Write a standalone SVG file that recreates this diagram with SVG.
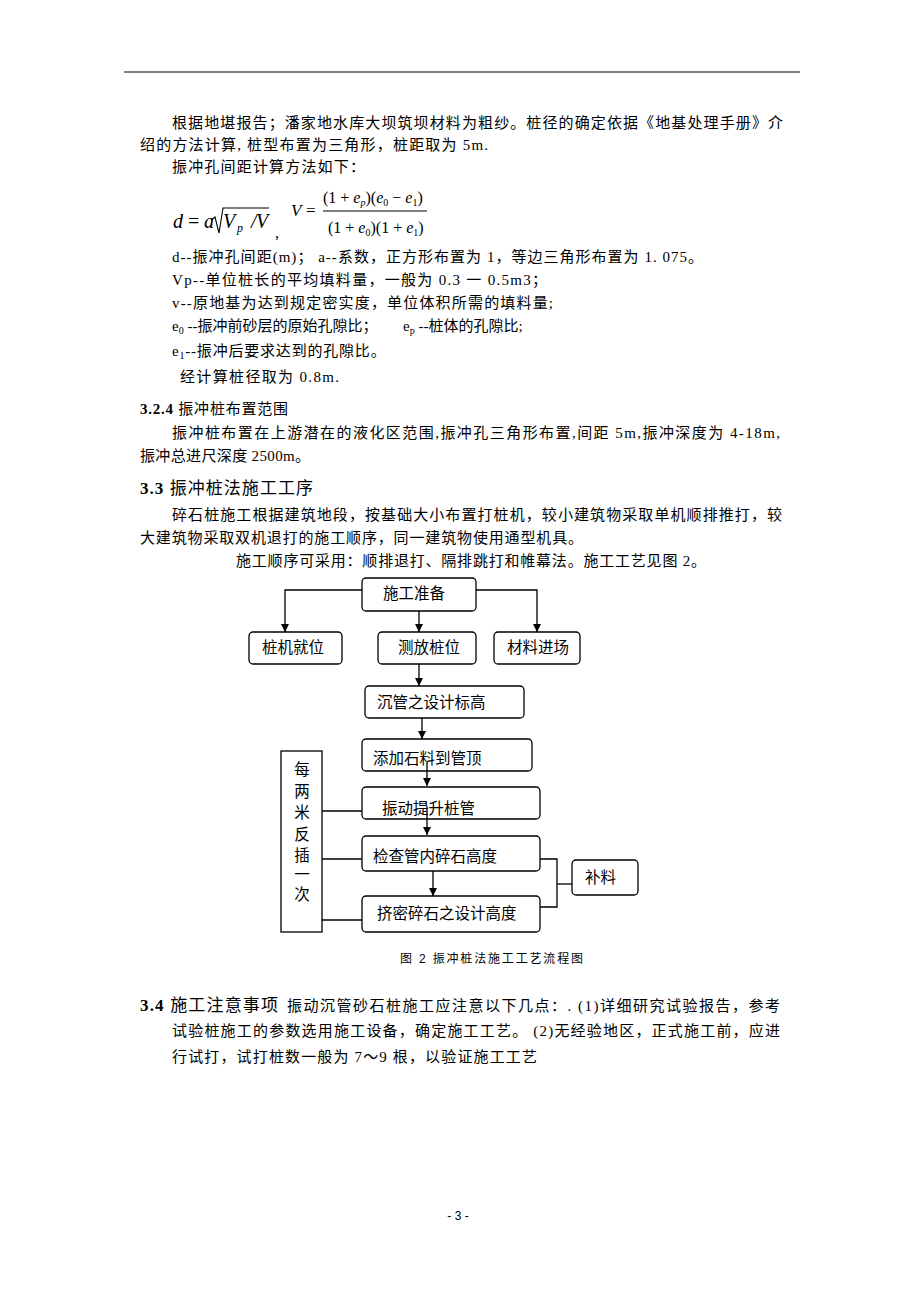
<svg xmlns="http://www.w3.org/2000/svg" width="920" height="1300" viewBox="0 0 920 1300">
<style>
.t{font-family:"Liberation Serif","Noto Sans CJK SC",serif;font-size:15px;fill:#000}
.h{font-family:"Liberation Serif","Noto Sans CJK SC",serif;font-size:17px;fill:#000}
.b{font-weight:bold}
.m{font-family:"Liberation Serif",serif;fill:#000}
.i{font-style:italic}
.n{font-family:"Liberation Sans","Noto Sans CJK SC",sans-serif;font-size:15.5px;fill:#000}
.box{fill:#fff;stroke:#000;stroke-width:1.3}
.ln{fill:none;stroke:#000;stroke-width:1.3}
.cap{font-family:"Liberation Sans","Noto Sans CJK SC",sans-serif;font-size:12px;fill:#000}
</style>
<defs>
<marker id="ah" viewBox="0 0 10 10" refX="10" refY="5" markerWidth="8" markerHeight="8" markerUnits="userSpaceOnUse" orient="auto">
<path d="M0,0 L10,5 L0,10 z" fill="#000"/>
</marker>
</defs>
<rect width="920" height="1300" fill="#fff"/>
<line x1="124" y1="72" x2="800" y2="72" stroke="#000" stroke-width="1"/>

<g id="body">
<text class="t" x="172" y="128" textLength="611" lengthAdjust="spacing">根据地堪报告；潘家地水库大坝筑坝材料为粗纱。桩径的确定依据《地基处理手册》介</text>
<text class="t" x="140" y="150" textLength="348" lengthAdjust="spacing">绍的方法计算, 桩型布置为三角形，桩距取为 5m.</text>
<text class="t" x="172" y="172" textLength="193" lengthAdjust="spacing">振冲孔间距计算方法如下：</text>

<!-- formula -->
<text class="m i" x="173" y="228" font-size="20">d</text>
<text class="m" x="188" y="228" font-size="20">=</text>
<text class="m i" x="204" y="228" font-size="20">a</text>
<path d="M211,220 L215,217 L219,233 L223,208 L269,208" fill="none" stroke="#000" stroke-width="1.1"/>
<text class="m i" x="223" y="228" font-size="20">V</text>
<text class="m i" x="237" y="232" font-size="12">p</text>
<text class="m i" x="251" y="228" font-size="20">/</text>
<text class="m i" x="256" y="228" font-size="20">V</text>
<text class="m" x="275" y="238" font-size="16">,</text>
<text class="m i" x="291" y="216" font-size="17">V</text>
<text class="m" x="306" y="216" font-size="17">=</text>
<text class="m" x="323" y="203" font-size="16">(1 + <tspan class="i">e</tspan><tspan class="i" font-size="10" dy="3">p</tspan><tspan dy="-3">)(</tspan><tspan class="i">e</tspan><tspan font-size="10" dy="3">0</tspan><tspan dy="-3"> − </tspan><tspan class="i">e</tspan><tspan font-size="10" dy="3">1</tspan><tspan dy="-3">)</tspan></text>
<line x1="323" y1="211" x2="427" y2="211" stroke="#000" stroke-width="1"/>
<text class="m" x="328" y="233" font-size="16">(1 + <tspan class="i">e</tspan><tspan font-size="10" dy="3">0</tspan><tspan dy="-3">)(1 + </tspan><tspan class="i">e</tspan><tspan font-size="10" dy="3">1</tspan><tspan dy="-3">)</tspan></text>

<text class="t" x="172" y="262" textLength="531" lengthAdjust="spacing">d--振冲孔间距(m)；   a--系数，正方形布置为 1，等边三角形布置为 1. 075。</text>
<text class="t" x="172" y="285" textLength="375" lengthAdjust="spacing">Vp--单位桩长的平均填料量，一般为 0.3 一 0.5m3；</text>
<text class="t" x="172" y="308" textLength="381" lengthAdjust="spacing">v--原地基为达到规定密实度，单位体积所需的填料量;</text>
<text class="t" x="172" y="331">e<tspan font-size="10" dy="3">0</tspan><tspan dy="-3"> --振冲前砂层的原始孔隙比；</tspan><tspan x="403">e</tspan><tspan font-size="10" dy="3">p</tspan><tspan dy="-3"> --桩体的孔隙比;</tspan></text>
<text class="t" x="172" y="356" letter-spacing="0.8">e<tspan font-size="10" dy="3">1</tspan><tspan dy="-3">--振冲后要求达到的孔隙比。</tspan></text>
<text class="t" x="180" y="382" textLength="159" lengthAdjust="spacing">经计算桩径取为  0.8m.</text>
<text class="t" x="140" y="414" textLength="148" lengthAdjust="spacing"><tspan class="b">3.2.4</tspan> 振冲桩布置范围</text>
<text class="t" x="172" y="438" textLength="608" lengthAdjust="spacing">振冲桩布置在上游潜在的液化区范围,振冲孔三角形布置,间距 5m,振冲深度为 4-18m,</text>
<text class="t" x="140" y="461" textLength="170" lengthAdjust="spacing">振冲总进尺深度 2500m。</text>
<text class="h" x="140" y="494" textLength="173" lengthAdjust="spacing"><tspan class="b">3.3</tspan> 振冲桩法施工工序</text>
<text class="t" x="172" y="520" textLength="610" lengthAdjust="spacing">碎石桩施工根据建筑地段，按基础大小布置打桩机，较小建筑物采取单机顺排推打，较</text>
<text class="t" x="140" y="543" textLength="443" lengthAdjust="spacing">大建筑物采取双机退打的施工顺序，同一建筑物使用通型机具。</text>
<text class="t" x="236" y="566" font-size="14" textLength="470" lengthAdjust="spacing">施工顺序可采用：顺排退打、隔排跳打和帷幕法。施工工艺见图 2。</text>
</g>

<g id="connectors">
<polyline class="ln" points="362,590 285,590 285,632" marker-end="url(#ah)"/>
<line class="ln" x1="419" y1="611" x2="419" y2="632" marker-end="url(#ah)"/>
<polyline class="ln" points="476,590 537,590 537,632" marker-end="url(#ah)"/>
<line class="ln" x1="419" y1="664" x2="419" y2="686" marker-end="url(#ah)"/>
<line class="ln" x1="422" y1="718" x2="422" y2="739" marker-end="url(#ah)"/>
<line class="ln" x1="322" y1="811" x2="362" y2="811"/>
<line class="ln" x1="322" y1="859" x2="362" y2="859"/>
<line class="ln" x1="322" y1="920" x2="362" y2="920"/>
<polyline class="ln" points="540,859 557,859 557,907 540,907"/>
<line class="ln" x1="557" y1="884" x2="572" y2="884"/>
</g>

<g id="n1"><rect class="box" x="362" y="578" width="114" height="33" rx="4"/><text class="n" x="383" y="599" font-size="16">施工准备</text></g>
<g id="n2"><rect class="box" x="249" y="632" width="93" height="32" rx="4"/><text class="n" x="262" y="653">桩机就位</text></g>
<g id="n3"><rect class="box" x="378" y="632" width="98" height="32" rx="4"/><text class="n" x="398" y="653">测放桩位</text></g>
<g id="n4"><rect class="box" x="494" y="632" width="86" height="32" rx="4"/><text class="n" x="507" y="653">材料进场</text></g>
<g id="n5"><rect class="box" x="365" y="686" width="159" height="32" rx="4"/><text class="n" x="377" y="708" font-size="16">沉管之设计标高</text></g>
<g id="n6"><rect class="box" x="362" y="739" width="170" height="32" rx="4"/><text class="n" x="373" y="764" font-size="16">添加石料到管顶</text></g>
<g id="n7"><rect class="box" x="362" y="787" width="178" height="32" rx="4"/><text class="n" x="382" y="814" font-size="16">振动提升桩管</text></g>
<g id="n8"><rect class="box" x="362" y="836" width="178" height="35" rx="4"/><text class="n" x="373" y="862" font-size="16">检查管内碎石高度</text></g>
<g id="n9"><rect class="box" x="362" y="896" width="178" height="36" rx="4"/><text class="n" x="377" y="919" font-size="16">挤密碎石之设计高度</text></g>
<g id="n10"><rect class="box" x="572" y="860" width="66" height="35" rx="4"/><text class="n" x="585" y="883" font-size="16">补料</text></g>
<g id="n11"><rect class="box" x="281" y="751" width="41" height="181"/>
<text class="n" text-anchor="middle" font-size="16"><tspan x="302" y="775">每</tspan><tspan x="302" y="797">两</tspan><tspan x="302" y="818">米</tspan><tspan x="302" y="840">反</tspan><tspan x="302" y="861">插</tspan><tspan x="302" y="880">一</tspan><tspan x="302" y="900">次</tspan></text></g>

<g id="connectors-over">
<line class="ln" x1="427" y1="762" x2="427" y2="786" marker-end="url(#ah)"/>
<line class="ln" x1="427" y1="806" x2="427" y2="835" marker-end="url(#ah)"/>
<line class="ln" x1="433" y1="871" x2="433" y2="896" marker-end="url(#ah)"/>
</g>

<text class="cap" x="400" y="963" font-size="13" textLength="183" lengthAdjust="spacing">图 2  振冲桩法施工工艺流程图</text>

<g id="sec34">
<text class="h" x="140" y="1011" textLength="138" lengthAdjust="spacing"><tspan class="b">3.4</tspan> 施工注意事项</text>
<text class="t" x="287" y="1011" textLength="493" lengthAdjust="spacing">振动沉管砂石桩施工应注意以下几点：.   (1)详细研究试验报告，参考</text>
<text class="t" x="172" y="1036" textLength="608" lengthAdjust="spacing">试验桩施工的参数选用施工设备，确定施工工艺。 (2)无经验地区，正式施工前，应进</text>
<text class="t" x="172" y="1062" textLength="365" lengthAdjust="spacing">行试打，试打桩数一般为 7～9 根，以验证施工工艺</text>
</g>
<text class="cap" x="458" y="1220" text-anchor="middle">- 3 -</text>
</svg>
